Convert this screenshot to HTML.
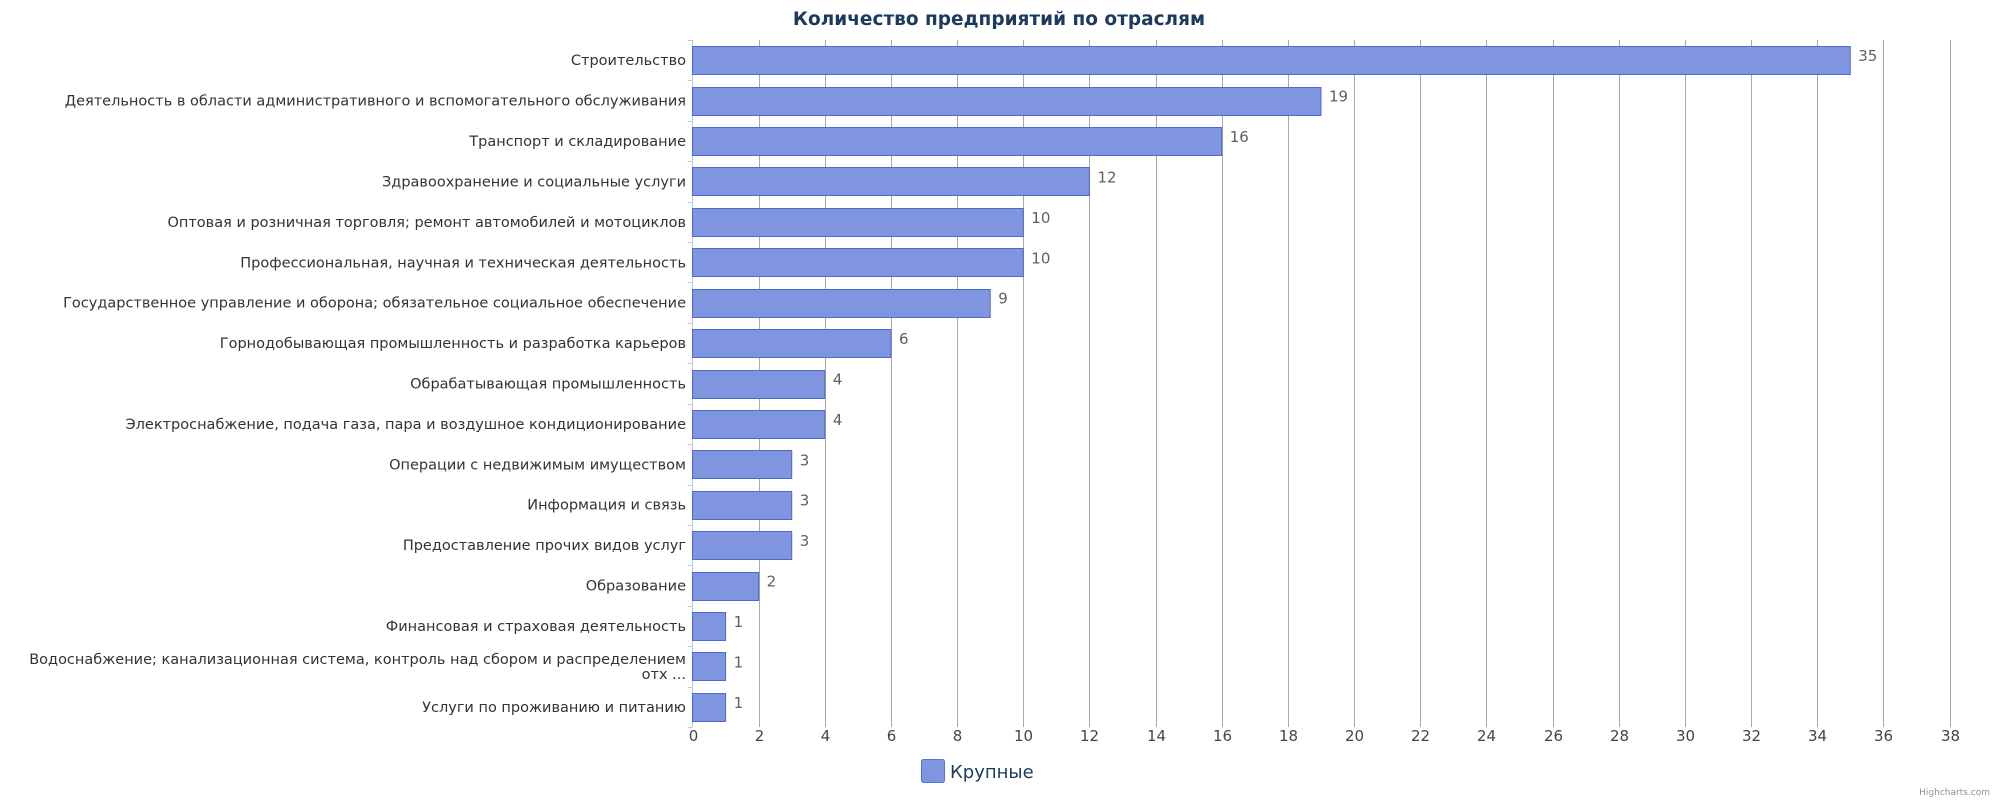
<!DOCTYPE html>
<html><head><meta charset="utf-8">
<style>
html,body{margin:0;padding:0;background:#fff;}
svg{display:block;font-family:"DejaVu Sans","Liberation Sans",sans-serif;}
</style></head>
<body>
<svg id="chart" width="2000" height="800" viewBox="0 0 2000 800" xmlns="http://www.w3.org/2000/svg">
<text x="999" y="25" text-anchor="middle" font-size="18.5" font-weight="bold" fill="#1b3a5e">Количество предприятий по отраслям</text>
<g id="grid"></g><g id="bars"></g><g id="labels"></g>
<g>
<rect x="921.5" y="759.5" width="23" height="23" rx="2" fill="#7f95df" stroke="#5b72d0"/>
<text x="950" y="778" font-size="18" fill="#1b3a5e">Крупные</text>
</g>
<text x="1990" y="795" text-anchor="end" font-size="9" fill="#909090">Highcharts.com</text>
</svg>
<script>
const categories = ["Строительство","Деятельность в области административного и вспомогательного обслуживания","Транспорт и складирование","Здравоохранение и социальные услуги","Оптовая и розничная торговля; ремонт автомобилей и мотоциклов","Профессиональная, научная и техническая деятельность","Государственное управление и оборона; обязательное социальное обеспечение","Горнодобывающая промышленность и разработка карьеров","Обрабатывающая промышленность","Электроснабжение, подача газа, пара и воздушное кондиционирование","Операции с недвижимым имуществом","Информация и связь","Предоставление прочих видов услуг","Образование","Финансовая и страховая деятельность","Водоснабжение; канализационная система, контроль над сбором и распределением|отх ...","Услуги по проживанию и питанию"];
const values = [35,19,16,12,10,10,9,6,4,4,3,3,3,2,1,1,1];
const xTicks = [0,2,4,6,8,10,12,14,16,18,20,22,24,26,28,30,32,34,36,38];

const NS="http://www.w3.org/2000/svg";
const X0=692.5, X1=1949.5, XMAX=38, TOP=40, BOT=727;
const band=(BOT-TOP)/categories.length, barH=28;
const xs=v=>X0+(X1-X0)*v/XMAX;
function mk(tag,attrs,parent){const e=document.createElementNS(NS,tag);for(const k in attrs)e.setAttribute(k,attrs[k]);parent.appendChild(e);return e;}
const grid=document.getElementById('grid'),bars=document.getElementById('bars'),labels=document.getElementById('labels');
xTicks.forEach(t=>{
  const x=Math.round(xs(t))+0.5;
  if(t>0){const l=mk('line',{x1:x,x2:x,y1:TOP,y2:BOT,stroke:'#a8a8a8','stroke-width':1},grid);
  
  }
  const tx=mk('text',{x:x,y:741,'text-anchor':'middle','font-size':15,fill:'#444'},labels);
  tx.textContent=t;
  
  
});
const ax=mk('line',{x1:X0,x2:X0,y1:TOP,y2:BOT,stroke:'#b8c8e0','stroke-width':1},grid);


for(let i=0;i<=categories.length;i++){
  const y=Math.round(TOP+band*i)+0.5;
  const tk=mk('line',{x1:X0-5,x2:X0,y1:y,y2:y,stroke:'#b8c8e0'},grid);
  
  
}
categories.forEach((c,i)=>{
  const cy=TOP+band*(i+0.5);
  const y=Math.round(cy-barH/2)+0.5;
  const w=xs(values[i])-X0;
  const r=mk('rect',{x:X0,y:y,width:w,height:barH,fill:'#7f95df',stroke:'#5068cc','stroke-width':1},bars);
  
  
  const dv=mk('text',{x:xs(values[i])+8,y:cy+1,'font-size':15,fill:'#606060'},labels);
  dv.textContent=values[i];
  
  
  const parts=c.split('|');
  const lt=mk('text',{x:686,'text-anchor':'end','font-size':14.5,fill:'#333'},labels);
  
  
  parts.forEach((p,j)=>{
    const ts=mk('tspan',{x:686,y:cy+5+(j-(parts.length-1)/2)*15},lt);
    ts.textContent=p;
  });
});
</script>
</body></html>
